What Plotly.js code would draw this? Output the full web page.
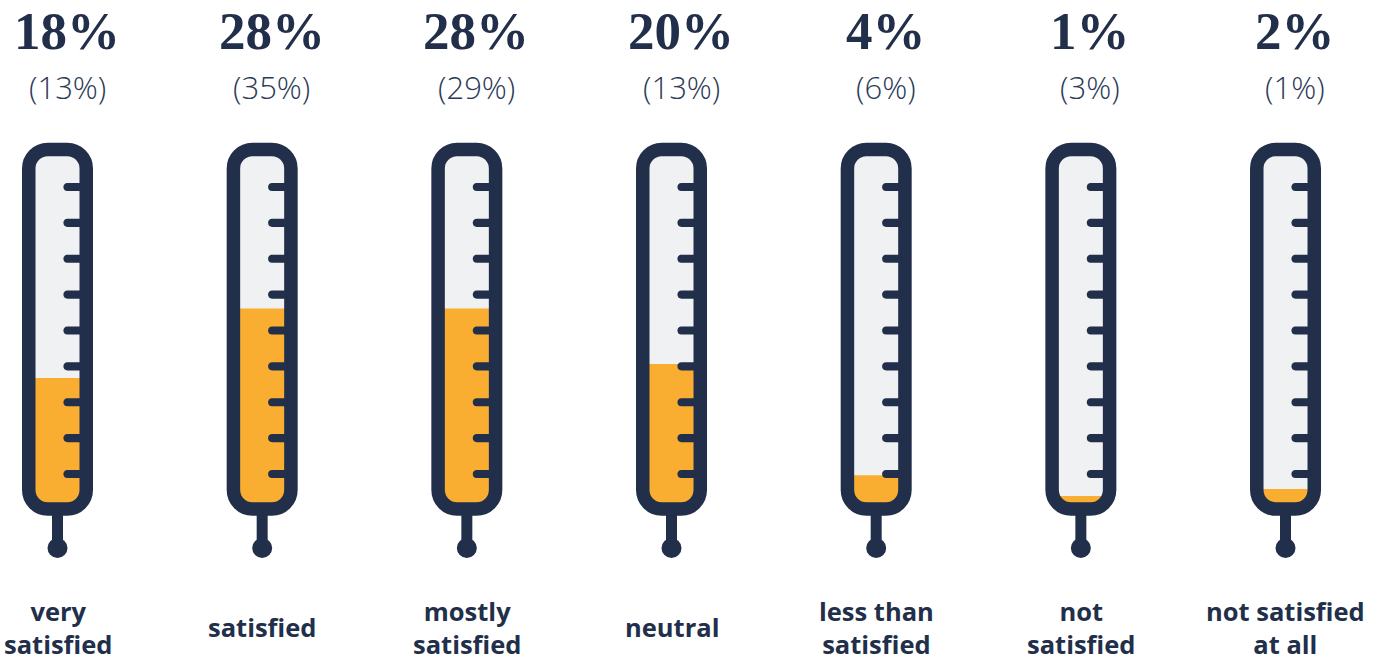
<!DOCTYPE html>
<html>
<head>
<meta charset="utf-8">
<script src="https://cdn.plot.ly/plotly-3.0.1.min.js"></script>
<style>html,body{margin:0;padding:0;background:#fff;}#chart{width:1391px;height:660px;}</style>
</head>
<body>
<div id="chart"></div>
<script>
// ---- data ----
const categories = ['very<br>satisfied', 'satisfied', 'mostly<br>satisfied', 'neutral', 'less than<br>satisfied', 'not<br>satisfied', 'not satisfied<br>at all'];
const values = [18, 28, 28, 20, 4, 1, 2];
const previousValues = [13, 35, 29, 13, 6, 3, 1];

// ---- styling / geometry ----
const W = 1391, H = 660;
const NAVY = '#222f4a', ORANGE = '#f9ae31', GLASS = '#f0f1f3';
const pxPerUnitX = 204.67, firstCenterPx = 57.5;
const pxPerUnitY = 6.95, zeroPx = 503;
const xr = [-firstCenterPx / pxPerUnitX, -firstCenterPx / pxPerUnitX + W / pxPerUnitX];
const yr = [-(H - zeroPx) / pxPerUnitY, zeroPx / pxPerUnitY];
const X = px => xr[0] + px / W * (xr[1] - xr[0]);
const Y = py => yr[1] - py / H * (yr[1] - yr[0]);
const cxPx = i => (i - xr[0]) / (xr[1] - xr[0]) * W;
const K = 0.5523;

function roundRectPath(l, t, rr, b, r) {
  const k = K * r;
  const P = (x, y) => X(x) + ',' + Y(y);
  return 'M' + P(l + r, t) + ' L' + P(rr - r, t) +
    ' C' + P(rr - r + k, t) + ' ' + P(rr, t + r - k) + ' ' + P(rr, t + r) +
    ' L' + P(rr, b - r) +
    ' C' + P(rr, b - r + k) + ' ' + P(rr - r + k, b) + ' ' + P(rr - r, b) +
    ' L' + P(l + r, b) +
    ' C' + P(l + r - k, b) + ' ' + P(l, b - r + k) + ' ' + P(l, b - r) +
    ' L' + P(l, t + r) +
    ' C' + P(l, t + r - k) + ' ' + P(l + r - k, t) + ' ' + P(l + r, t) + ' Z';
}
function tickPath(xl, xrgt, yc, r) {
  const P = (x, y) => X(x) + ',' + Y(y);
  const c = 1.3333 * r;
  return 'M' + P(xl, yc - r) + ' L' + P(xrgt, yc - r) + ' L' + P(xrgt, yc + r) + ' L' + P(xl, yc + r) +
    ' C' + P(xl - c, yc + r) + ' ' + P(xl - c, yc - r) + ' ' + P(xl, yc - r) + ' Z';
}

const shapes = [];
const annotations = [];
const halfC = 28.75, tubeTop = 149.5, tubeBottom = 509, rad = 19, stroke = 13.5;
categories.forEach((cat, i) => {
  const cx = cxPx(i);
  // glass background
  shapes.push({type: 'path', layer: 'below', xref: 'x', yref: 'y',
    path: roundRectPath(cx - halfC, tubeTop, cx + halfC, tubeBottom, rad),
    fillcolor: GLASS, line: {width: 0}});
  // stem
  shapes.push({type: 'line', layer: 'above', xref: 'x', yref: 'y',
    x0: X(cx), x1: X(cx), y0: Y(tubeBottom), y1: Y(548), line: {color: NAVY, width: 11}});
  // bulb dot
  shapes.push({type: 'circle', layer: 'above', xref: 'x', yref: 'y',
    x0: X(cx - 10), x1: X(cx + 10), y0: Y(558), y1: Y(538), fillcolor: NAVY, line: {width: 0}});
  // outline
  shapes.push({type: 'path', layer: 'above', xref: 'x', yref: 'y',
    path: roundRectPath(cx - halfC, tubeTop, cx + halfC, tubeBottom, rad),
    fillcolor: 'rgba(0,0,0,0)', line: {color: NAVY, width: stroke}});
  // scale ticks
  for (let k = 0; k < 9; k++) {
    const yc = 187 + 35.875 * k;
    shapes.push({type: 'path', layer: 'above', xref: 'x', yref: 'y',
      path: tickPath(cx + 10, cx + 25, yc, 4.1), fillcolor: NAVY, line: {width: 0}});
  }
  // labels
  annotations.push({x: i + 9.5 / pxPerUnitX, y: 1 - 30.5 / H, xref: 'x', yref: 'paper',
    text: values[i] + '%', showarrow: false, xanchor: 'center', yanchor: 'middle',
    font: {family: 'Liberation Serif, serif', size: 53, color: NAVY, weight: 700}});
  annotations.push({x: i + 9.5 / pxPerUnitX, y: 1 - 87 / H, xref: 'x', yref: 'paper',
    text: '(' + previousValues[i] + '%)', showarrow: false, xanchor: 'center', yanchor: 'middle',
    font: {family: 'Open Sans, sans-serif', size: 31, color: '#2b3a55', weight: 300}});
  annotations.push({x: i, y: 1 - 627 / H, xref: 'x', yref: 'paper',
    text: cat, showarrow: false, xanchor: 'center', yanchor: 'middle',
    font: {family: 'Open Sans, sans-serif', size: 25.5, color: NAVY, weight: 700}});
});

const trace = {
  type: 'bar',
  x: categories.map((c, i) => i),
  y: values,
  width: categories.map(() => 46 / pxPerUnitX),
  marker: {color: ORANGE, line: {width: 0}},
  hoverinfo: 'skip'
};

const layout = {
  width: W, height: H,
  margin: {l: 0, r: 0, t: 0, b: 0, pad: 0},
  paper_bgcolor: '#ffffff', plot_bgcolor: '#ffffff',
  showlegend: false,
  xaxis: {range: xr, visible: false, fixedrange: true},
  yaxis: {range: yr, visible: false, fixedrange: true},
  shapes: shapes,
  annotations: annotations
};

Plotly.newPlot('chart', [trace], layout, {displayModeBar: false, staticPlot: true});
</script>
</body>
</html>
